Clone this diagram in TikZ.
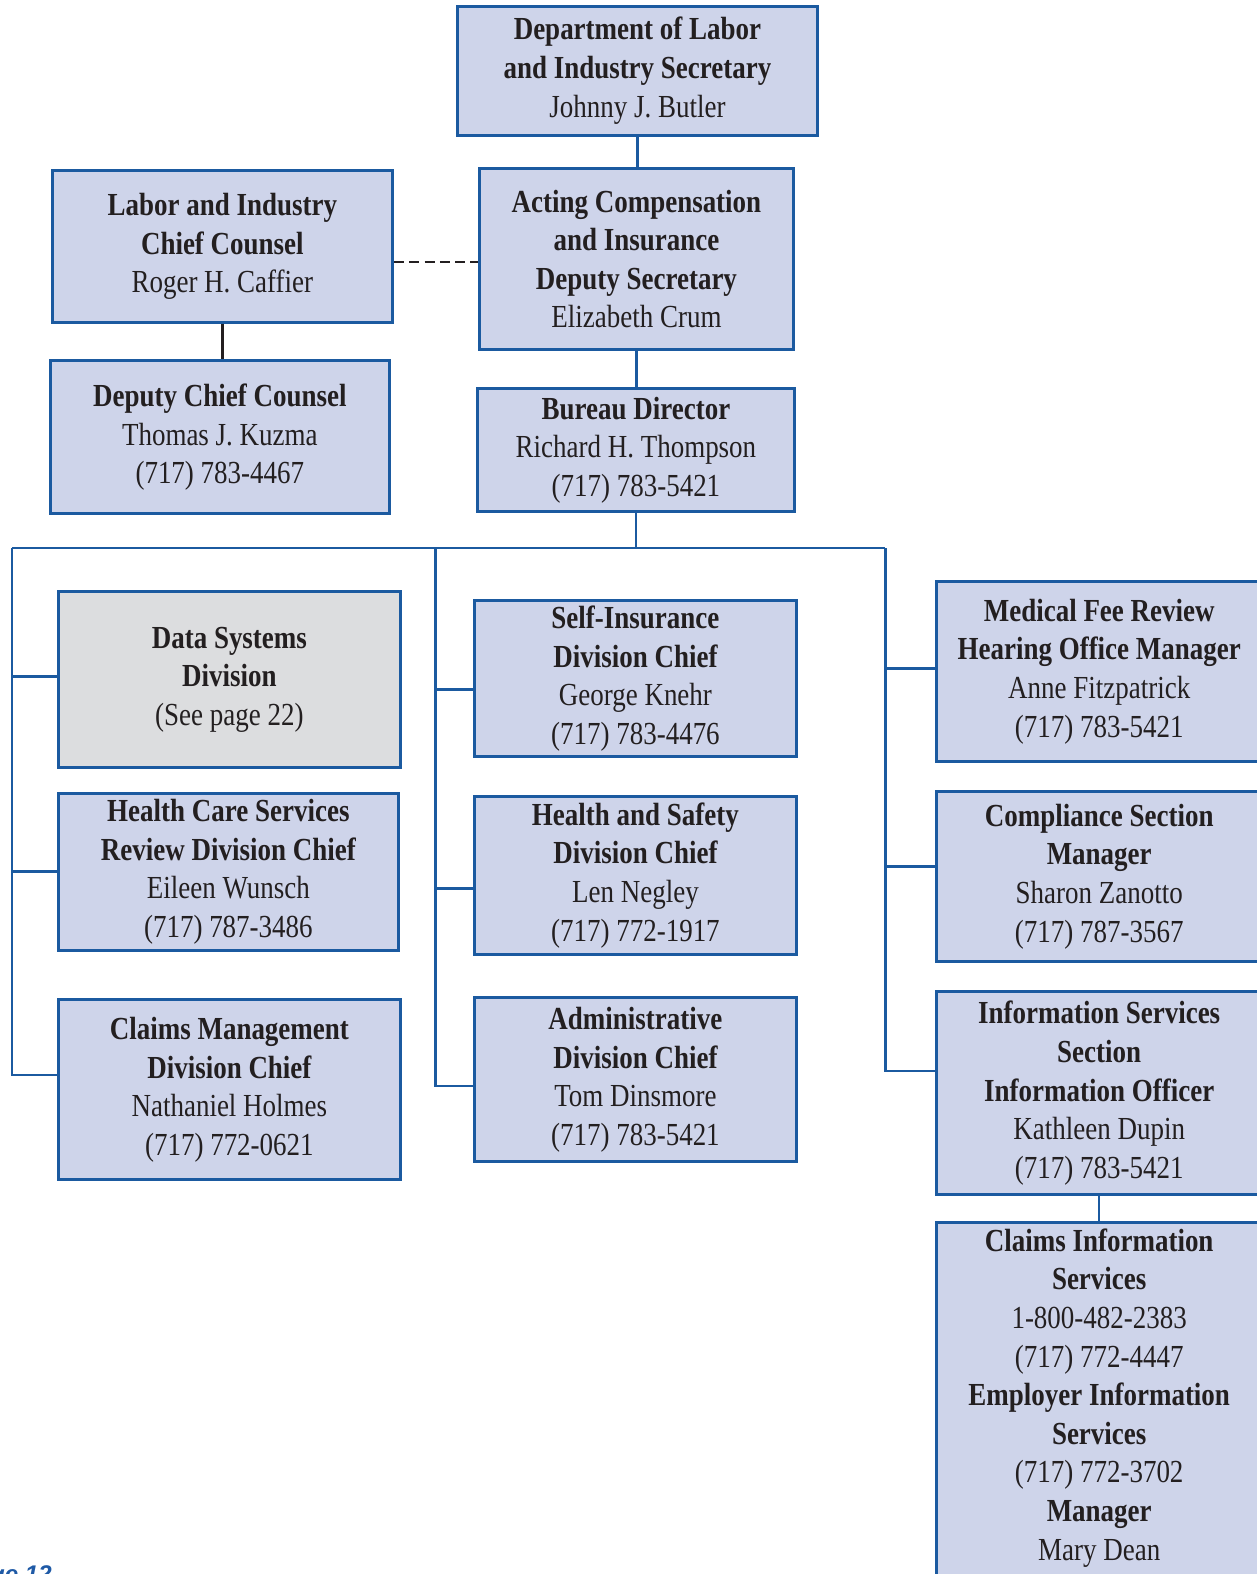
\documentclass[tikz,border=0pt]{standalone}
\usepackage{fontspec}
\setmainfont{Liberation Serif}[FakeStretch=0.84]
\newfontfamily\pagefont{Liberation Sans}
\definecolor{boxblue}{HTML}{1B5AA0}
\definecolor{boxfill}{HTML}{CED4EA}
\definecolor{grayfill}{HTML}{DCDDDF}
\definecolor{textdark}{HTML}{231F20}
\definecolor{pageblue}{HTML}{1F5AA6}
\tikzset{
  x=0.5pt, y=-0.5pt,
  box/.style={draw=boxblue, line width=1.5pt, fill=boxfill, align=center, inner sep=0pt,
    text=textdark, font=\fontsize{16}{19.25}\selectfont},
  graybox/.style={box, fill=grayfill},
  conn/.style={draw=boxblue, line width=1.2pt},
  blackconn/.style={draw=textdark, line width=1.2pt},
  dashconn/.style={draw=textdark, line width=1.2pt, dash pattern=on 5pt off 2.6pt},
  txt/.style={align=center, inner sep=0pt, text=textdark, font=\fontsize{16}{19.25}\selectfont}
}
\newcommand\orgnode[7][box]{\node[#1, minimum width={(#5-#3)*0.5pt}, minimum height={(#6-#4)*0.5pt}] (#2) at ({(#3+#5)/2},{(#4+#6)/2}) {#7};}
\newcommand\B[1]{{\bfseries #1}}
\begin{document}
\begin{tikzpicture}
\useasboundingbox (0,0) rectangle (1252,1568);
% boxes
\orgnode{sec}{456}{6}{814}{135}{\B{Department of Labor}\\\B{and Industry Secretary}\\Johnny J. Butler}
\orgnode{counsel}{52}{170}{391}{321}{\B{Labor and Industry}\\\B{Chief Counsel}\\Roger H. Caffier}
\orgnode{acting}{478}{168}{790}{348}{\B{Acting Compensation}\\\B{and Insurance}\\\B{Deputy Secretary}\\Elizabeth Crum}
\orgnode{deputy}{50}{359}{388}{512}{\B{Deputy Chief Counsel}\\Thomas J. Kuzma\\(717) 783-4467}
\orgnode{bureau}{476}{387}{791}{510}{\B{Bureau Director}\\Richard H. Thompson\\(717) 783-5421}
\orgnode[graybox]{data}{58}{589}{399}{765}{\B{Data Systems}\\\B{Division}\\(See page 22)}
\orgnode{health}{58}{790}{397}{947}{\B{Health Care Services}\\\B{Review Division Chief}\\Eileen Wunsch\\(717) 787-3486}
\orgnode{claims}{58}{996}{399}{1175}{\B{Claims Management}\\\B{Division Chief}\\Nathaniel Holmes\\(717) 772-0621}
\orgnode{self}{473}{598}{793}{754}{\B{Self-Insurance}\\\B{Division Chief}\\George Knehr\\(717) 783-4476}
\orgnode{safety}{473}{793}{793}{951}{\B{Health and Safety}\\\B{Division Chief}\\Len Negley\\(717) 772-1917}
\orgnode{admin}{473}{994}{793}{1157}{\B{Administrative}\\\B{Division Chief}\\Tom Dinsmore\\(717) 783-5421}
\orgnode{medical}{933}{579}{1257}{759}{\B{Medical Fee Review}\\\B{Hearing Office Manager}\\Anne Fitzpatrick\\(717) 783-5421}
\orgnode{compliance}{933}{788}{1257}{958}{\B{Compliance Section}\\\B{Manager}\\Sharon Zanotto\\(717) 787-3567}
\orgnode{infoserv}{933}{988}{1257}{1190}{\B{Information Services}\\\B{Section}\\\B{Information Officer}\\Kathleen Dupin\\(717) 783-5421}
\orgnode{cisbox}{933}{1218}{1257}{1600}{}
\node[txt] (cistext) at (1095,1392.5) {\B{Claims Information}\\\B{Services}\\1-800-482-2383\\(717) 772-4447\\\B{Employer Information}\\\B{Services}\\(717) 772-3702\\\B{Manager}\\Mary Dean};
% page label (cut off)
\node[anchor=north east, inner sep=0pt, text=pageblue, font=\pagefont\bfseries\itshape\fontsize{12}{14}\selectfont] (pagelbl) at (52,1559) {Page 12};
% connectors
\draw[conn] (sec.south) -- (sec.south |- acting.north);
\draw[dashconn] ([yshift=-7.75pt]counsel.east) -- ([yshift=-7.75pt]counsel.east -| acting.west);
\draw[blackconn] (counsel.south) -- (counsel.south |- deputy.north);
\draw[conn] (acting.south) -- (acting.south |- bureau.north);
\coordinate (busL) at (12,546);
\coordinate (busM) at (434,546);
\coordinate (busR) at (882,546);
\draw[conn] (bureau.south) -- (bureau.south |- busL);
\draw[conn] (busL) -- (busR);
% left column
\draw[conn] (busL) |- ([yshift=7.25pt]claims.west);
\draw[conn] ([yshift=1.5pt]data.west) -- ([yshift=1.5pt]data.west -| busL);
\draw[conn] ([yshift=0.25pt]health.west) -- ([yshift=0.25pt]health.west -| busL);
% middle column
\draw[conn] (busM) |- ([yshift=-3.25pt]admin.west);
\draw[conn] ([yshift=-5.5pt]self.west) -- ([yshift=-5.5pt]self.west -| busM);
\draw[conn] ([yshift=-6.5pt]safety.west) -- ([yshift=-6.5pt]safety.west -| busM);
% right column
\draw[conn] (busR) |- ([yshift=11pt]infoserv.west);
\draw[conn] ([yshift=1.5pt]medical.west) -- ([yshift=1.5pt]medical.west -| busR);
\draw[conn] ([yshift=5pt]compliance.west) -- ([yshift=5pt]compliance.west -| busR);
\draw[conn] (infoserv.south) -- (cisbox.north);
\end{tikzpicture}
\end{document}
